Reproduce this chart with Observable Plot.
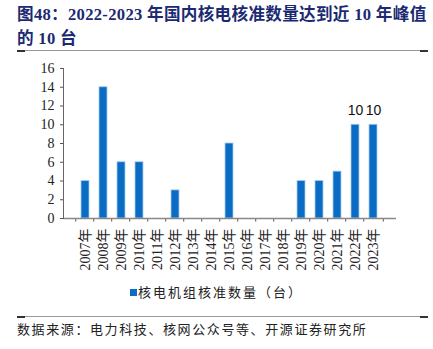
<!DOCTYPE html>
<html><head><meta charset="utf-8">
<script src="https://cdn.jsdelivr.net/npm/d3@7"></script>
<script src="https://cdn.jsdelivr.net/npm/@observablehq/plot@0.6"></script>
<style>
body{margin:0;background:#fff;width:433px;height:349px;position:relative;overflow:hidden;}
#title{position:absolute;left:17px;top:3px;width:414px;font-family:"Liberation Serif","Noto Sans CJK SC",serif;font-weight:bold;font-size:16.6px;line-height:24px;color:#1c2a72;white-space:nowrap;letter-spacing:0.3px;}
.rule{position:absolute;left:17px;width:411px;height:1px;background:#999;}
.rule::before,.rule::after{content:"";position:absolute;top:-0.5px;width:8px;height:2px;background:#333;}
.rule::before{left:0}.rule::after{right:0}
#chart{position:absolute;left:0;top:55px;}
#legend{position:absolute;left:0;width:433px;top:282px;text-align:center;font-family:"Noto Sans CJK SC",sans-serif;font-size:13px;color:#222;letter-spacing:2px;}
#legend span.sw{display:inline-block;width:7px;height:7px;background:#0a6cc4;margin-right:1px;vertical-align:1px;}
#source{position:absolute;left:17px;top:319px;font-family:"Noto Sans CJK SC",sans-serif;font-size:13px;color:#222;letter-spacing:1.6px;white-space:nowrap;}
</style></head>
<body>
<div id="title">图48：2022-2023 年国内核电核准数量达到近 10 年峰值<br>的 10 台</div>
<div class="rule" style="top:50px"></div>
<div id="chart"></div>
<div id="legend"><span class="sw"></span>核电机组核准数量（台）</div>
<div class="rule" style="top:316px"></div>
<div id="source">数据来源：电力科技、核网公众号等、开源证券研究所</div>
<script>
const years = ["2007","2008","2009","2010","2011","2012","2013","2014","2015","2016","2017","2018","2019","2020","2021","2022","2023"];
const approvals = [4,14,6,6,0,3,0,0,8,0,0,0,4,4,5,10,10];
const labeledYears = ["2022","2023"];
const yTicks = [0,2,4,6,8,10,12,14,16];

const data = years.map((y,i)=>({year:y, value:approvals[i]}));
const W = 433, ML = 63, MR = 37;
const step = (W-ML-MR)/years.length;

const plot = Plot.plot({
  width: W, height: 222,
  marginLeft: ML, marginRight: MR, marginTop: 13, marginBottom: 59,
  style: {fontFamily: '"Liberation Serif","Noto Sans CJK SC",serif', fontSize: "14px", color: "#222", background: "transparent"},
  x: {domain: years, padding: 0.55, label: null},
  y: {domain: [0,16], label: null},
  marks: [
    Plot.barY(data, {x:"year", y:"value", fill:"#0a6cc4", stroke:"#a9cdee", strokeWidth:0.8}),
    Plot.text(data.filter(d=>labeledYears.includes(d.year)), {x:"year", y:"value", text:d=>String(d.value), dy:-14, fontFamily:'"Liberation Sans",sans-serif', fontSize:14, fill:"#111"}),
    Plot.ruleX(years, {x:d=>d, dx:-step/2, y1:0, y2:-0.38, stroke:"#555", strokeWidth:1}),
    Plot.ruleX([years[years.length-1]], {x:d=>d, dx:step/2, y1:0, y2:-0.38, stroke:"#555", strokeWidth:1}),
    Plot.ruleY([0], {stroke:"#888", strokeWidth:1.5}),
    Plot.axisY({ticks: yTicks, tickSize: 3, tickPadding: 6, fontSize: 14, stroke:"#555"}),
    Plot.frame({anchor:"left", stroke:"#666"}),
    Plot.axisX({tickSize: 0, tickRotate: -90, tickPadding: 10, tickFormat: d=>d+"年", fontSize: 14})
  ]
});
document.getElementById("chart").appendChild(plot);
</script>
</body></html>
